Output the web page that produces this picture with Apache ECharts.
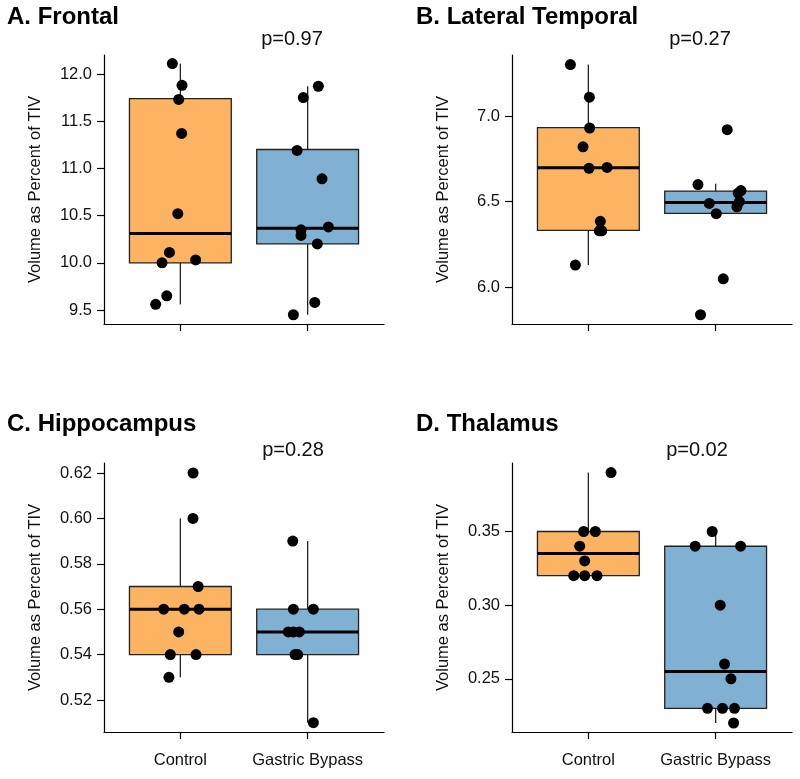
<!DOCTYPE html>
<html>
<head>
<meta charset="utf-8">
<script src="https://cdn.jsdelivr.net/npm/echarts@6/dist/echarts.min.js"></script>
<style>
html,body{margin:0;padding:0;background:#fff;}
#c{width:800px;height:779px;}
</style>
</head>
<body>
<div id="c"></div>
<script>
// ---- Data ----
const groups = ['Control', 'Gastric Bypass'];
const panelTitles = ['A. Frontal', 'B. Lateral Temporal', 'C. Hippocampus', 'D. Thalamus'];
const pValues = ['p=0.97', 'p=0.27', 'p=0.28', 'p=0.02'];

// Frontal
const frontalCtrl = [12.11, 11.88, 11.73, 11.37, 10.52, 10.11, 10.00, 10.03, 9.65, 9.56];
const frontalCtrlJitter = [-0.063, 0.013, -0.013, 0.010, -0.020, -0.086, -0.144, 0.120, -0.107, -0.194];
const frontalGB = [11.87, 11.75, 11.19, 10.89, 10.35, 10.29, 10.38, 10.20, 9.58, 9.45];
const frontalGBJitter = [0.084, -0.034, -0.083, 0.113, -0.052, -0.052, 0.163, 0.076, 0.056, -0.112];
const frontalBox = [[9.56, 10.00, 10.31, 11.74, 12.11], [9.45, 10.20, 10.365, 11.20, 11.87]];
const frontalTicks = [9.5, 10.0, 10.5, 11.0, 11.5, 12.0];
const frontalRange = [9.352, 12.201];

// Lateral Temporal
const temporalCtrl = [7.30, 7.11, 6.93, 6.82, 6.695, 6.70, 6.385, 6.33, 6.33, 6.13];
const temporalCtrlJitter = [-0.141, 0.008, 0.010, -0.042, 0.005, 0.147, 0.094, 0.086, 0.105, -0.102];
const temporalGB = [6.92, 6.60, 6.49, 6.43, 6.565, 6.55, 6.50, 6.47, 6.05, 5.84];
const temporalGBJitter = [0.091, -0.139, -0.050, 0.005, 0.199, 0.177, 0.187, 0.167, 0.060, -0.119];
const temporalBox = [[6.13, 6.333, 6.698, 6.932, 7.30], [6.432, 6.432, 6.495, 6.562, 6.605]];
const temporalTicks = [6.0, 6.5, 7.0];
const temporalRange = [5.786, 7.356];

// Hippocampus
const hippoCtrl = [0.62, 0.60, 0.57, 0.56, 0.56, 0.56, 0.55, 0.54, 0.54, 0.53];
const hippoCtrlJitter = [0.100, 0.099, 0.140, -0.131, 0.031, 0.146, -0.013, -0.079, 0.123, -0.090];
const hippoGB = [0.59, 0.56, 0.56, 0.55, 0.55, 0.55, 0.54, 0.54, 0.51];
const hippoGBJitter = [-0.117, -0.112, 0.045, -0.152, -0.112, -0.065, -0.099, -0.078, 0.045];
const hippoBox = [[0.53, 0.54, 0.56, 0.57, 0.60], [0.51, 0.54, 0.55, 0.56, 0.59]];
const hippoTicks = [0.52, 0.54, 0.56, 0.58, 0.60, 0.62];
const hippoRange = [0.5059, 0.6244];

// Thalamus
const thalCtrl = [0.39, 0.35, 0.35, 0.34, 0.33, 0.32, 0.32, 0.32];
const thalCtrlJitter = [0.178, -0.037, 0.055, -0.068, -0.029, -0.115, -0.029, 0.068];
const thalGB = [0.35, 0.34, 0.34, 0.30, 0.26, 0.25, 0.23, 0.23, 0.23, 0.22];
const thalGBJitter = [-0.027, -0.161, 0.196, 0.036, 0.070, 0.120, -0.064, 0.054, 0.148, 0.141];
const thalBox = [[0.32, 0.32, 0.335, 0.35, 0.39], [0.22, 0.23, 0.255, 0.34, 0.35]];
const thalTicks = [0.25, 0.30, 0.35];
const thalRange = [0.2139, 0.3965];

// ---- Build ----
const boxColors = ['#FDB462', '#80B1D3'];
const FONT = '"Liberation Sans", Arial, Helvetica, sans-serif';
const TXT = '#111';

const panels = [
  {ctrl: frontalCtrl, cj: frontalCtrlJitter, gb: frontalGB, gj: frontalGBJitter, box: frontalBox, ticks: frontalTicks, range: frontalRange, dec: 1},
  {ctrl: temporalCtrl, cj: temporalCtrlJitter, gb: temporalGB, gj: temporalGBJitter, box: temporalBox, ticks: temporalTicks, range: temporalRange, dec: 1},
  {ctrl: hippoCtrl, cj: hippoCtrlJitter, gb: hippoGB, gj: hippoGBJitter, box: hippoBox, ticks: hippoTicks, range: hippoRange, dec: 2},
  {ctrl: thalCtrl, cj: thalCtrlJitter, gb: thalGB, gj: thalGBJitter, box: thalBox, ticks: thalTicks, range: thalRange, dec: 2}
];

const gridPos = [
  {left: 104, top: 55, width: 280, height: 269},
  {left: 512, top: 55, width: 280, height: 269},
  {left: 104, top: 463, width: 280, height: 269},
  {left: 512, top: 463, width: 280, height: 269}
];

const grids = [], xAxes = [], yAxes = [], series = [], graphics = [];

panels.forEach((p, i) => {
  grids.push(Object.assign({containLabel: false}, gridPos[i]));
  const bottomRow = i >= 2;
  xAxes.push({
    type: 'value', gridIndex: i, min: 0.4, max: 2.6,
    splitLine: {show: false},
    axisLine: {show: true, onZero: false, lineStyle: {color: '#000', width: 1.2}},
    axisTick: {show: true, customValues: [1, 2], length: 7, lineStyle: {color: '#000', width: 1.2}},
    axisLabel: {show: bottomRow, customValues: [1, 2], margin: 20,
      formatter: v => groups[Math.round(v) - 1] || '',
      color: TXT, fontSize: 16.5, fontFamily: FONT}
  });
  yAxes.push({
    type: 'value', gridIndex: i, min: p.range[0], max: p.range[1],
    name: 'Volume as Percent of TIV', nameLocation: 'middle', nameGap: 60,
    nameTextStyle: {color: TXT, fontSize: 16.5, fontFamily: FONT},
    splitLine: {show: false},
    axisLine: {show: true, lineStyle: {color: '#000', width: 1.2}},
    axisTick: {show: true, customValues: p.ticks, length: 7, lineStyle: {color: '#000', width: 1.2}},
    axisLabel: {customValues: p.ticks, margin: 12, color: TXT, fontSize: 16.5, fontFamily: FONT,
      formatter: v => Number(v).toFixed(p.dec)}
  });

  // Boxes
  const boxData = p.box.map((b, k) => [k + 1, b[0], b[1], b[2], b[3], b[4]]);
  series.push({
    type: 'custom', xAxisIndex: i, yAxisIndex: i, z: 2,
    encode: {x: 0, y: [1, 2, 3, 4, 5]},
    data: boxData,
    renderItem: function (params, api) {
      const x = api.value(0);
      const pLo = api.coord([x, api.value(1)]);
      const pQ1 = api.coord([x, api.value(2)]);
      const pMed = api.coord([x, api.value(3)]);
      const pQ3 = api.coord([x, api.value(4)]);
      const pHi = api.coord([x, api.value(5)]);
      const w = api.size([0.8, 0])[0];
      const cx = pMed[0];
      const lineStyle = {stroke: '#222', lineWidth: 1.3};
      return {
        type: 'group',
        children: [
          {type: 'line', shape: {x1: cx, y1: pHi[1], x2: cx, y2: pQ3[1]}, style: lineStyle},
          {type: 'line', shape: {x1: cx, y1: pQ1[1], x2: cx, y2: pLo[1]}, style: lineStyle},
          {type: 'rect', shape: {x: cx - w / 2, y: pQ3[1], width: w, height: pQ1[1] - pQ3[1]},
            style: {fill: boxColors[params.dataIndex], stroke: '#222', lineWidth: 1.3}},
          {type: 'line', shape: {x1: cx - w / 2, y1: pMed[1], x2: cx + w / 2, y2: pMed[1]},
            style: {stroke: '#000', lineWidth: 3}}
        ]
      };
    }
  });

  // Points
  const pts = p.ctrl.map((v, k) => [1 + p.cj[k], v]).concat(p.gb.map((v, k) => [2 + p.gj[k], v]));
  series.push({
    type: 'scatter', xAxisIndex: i, yAxisIndex: i, z: 5,
    symbol: 'circle', symbolSize: 11,
    itemStyle: {color: '#000', opacity: 1},
    data: pts, silent: true
  });

  // Titles & p-values
  graphics.push({
    type: 'text', left: (i % 2 === 0 ? 7 : 416), top: (i < 2 ? 5 : 412),
    style: {text: panelTitles[i], fill: '#000', font: 'bold 24px ' + FONT}
  });
  graphics.push({
    type: 'text', x: [292, 700, 293, 697][i], y: (i < 2 ? 39 : 450),
    style: {text: pValues[i], fill: TXT, font: '20px ' + FONT, textAlign: 'center', textVerticalAlign: 'middle'}
  });
});

const chart = echarts.init(document.getElementById('c'), null, {renderer: 'canvas'});
chart.setOption({
  animation: false,
  backgroundColor: '#fff',
  grid: grids,
  xAxis: xAxes,
  yAxis: yAxes,
  series: series,
  graphic: graphics
});
</script>
</body>
</html>
